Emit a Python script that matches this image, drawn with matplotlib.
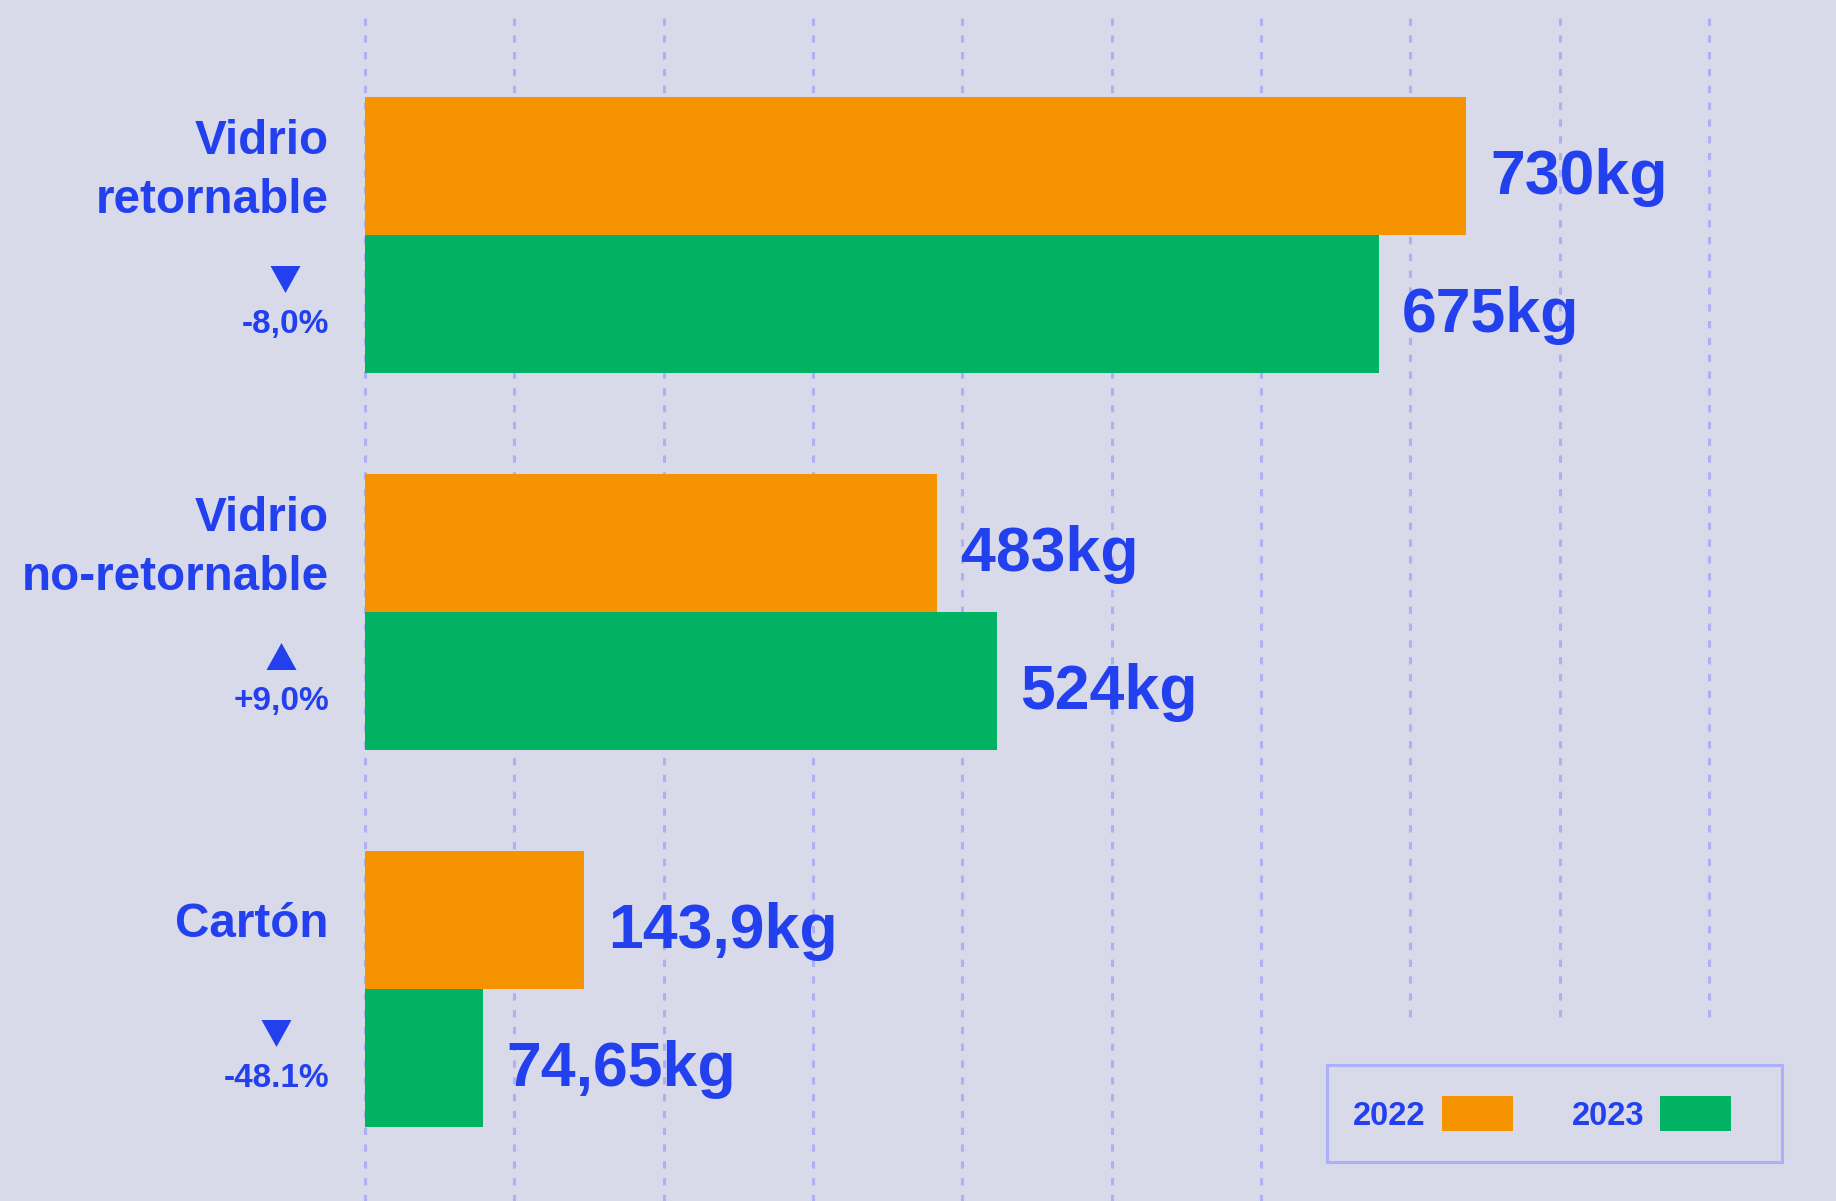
import numpy as np
import matplotlib
matplotlib.use('Agg')
import matplotlib.pyplot as plt
from matplotlib.patches import Patch, Rectangle

# ---- data ----
categories = ['Vidrio\nretornable', 'Vidrio\nno-retornable', 'Cartón']
# bar lengths as drawn in the picture (one grid step = 100)
bars_2022 = [737.6, 383.2, 146.9]
bars_2023 = [678.7, 423.2, 78.8]
labels_2022 = ['730kg', '483kg', '143,9kg']
labels_2023 = ['675kg', '524kg', '74,65kg']
changes = ['-8,0%', '+9,0%', '-48.1%']
change_up = [False, True, False]
years = ['2022', '2023']
grid_ticks = np.arange(0, 1000, 100)

# ---- style ----
BG = '#d8daea'
ORANGE = '#f59300'
GREEN = '#00b262'
BLUE = '#2340ee'
GRID = '#adb1f4'
FONT = ['Liberation Sans', 'DejaVu Sans']
plt.rcParams['font.family'] = FONT

W, H = 1836, 1201
X0 = 365.0            # pixel where the zero of the scale sits
PX_PER_UNIT = 1.4933  # pixels per kg-unit of the grid
Y0 = 235.3            # pixel of the first group's orange/green seam
PX_PER_GROUP = 377.0
PT = 72 / 100         # points per pixel


def py(px):
    return (px - Y0) / PX_PER_GROUP


fig = plt.figure(figsize=(W / 100, H / 100), dpi=100, facecolor=BG)
ax = fig.add_axes([0, 0, 1, 1])
ax.set_facecolor(BG)
ax.axis('off')
ax.set_xlim(-X0 / PX_PER_UNIT, (W - X0) / PX_PER_UNIT)
ax.set_ylim((H - Y0) / PX_PER_GROUP, -Y0 / PX_PER_GROUP)

# dotted vertical grid, the right ones stop above the legend
ends = np.where(grid_ticks >= 700, py(1022), py(H + 5))
ax.vlines(grid_ticks, py(18), ends, colors=GRID, lw=2.2,
          linestyles=[(0, (2.4, 3.1))], zorder=1)

h = 138 / PX_PER_GROUP
y = np.arange(len(categories))
ax.barh(y - h / 2, bars_2022, height=h, color=ORANGE, zorder=2)
ax.barh(y + h / 2, bars_2023, height=h, color=GREEN, zorder=2)

txt = dict(color=BLUE, fontweight='bold', family=FONT,
           textcoords='offset points', va='baseline', annotation_clip=False)

pct_texts = []
for i in range(len(categories)):
    ax.annotate(labels_2022[i], xy=(bars_2022[i], i - h / 2), xytext=(17, -19.7),
                ha='left', fontsize=45, **txt)
    ax.annotate(labels_2023[i], xy=(bars_2023[i], i + h / 2), xytext=(17, -19.7),
                ha='left', fontsize=45, **txt)

    lines = categories[i].split('\n')
    n = len(lines)
    for j, line in enumerate(lines):
        off = (j - (n - 1) / 2) * 58.7 + 17
        ax.annotate(line, xy=(0, i - h / 2), xytext=(-26, -off * PT),
                    ha='right', fontsize=34.3, **txt)

    t = ax.annotate(changes[i], xy=(0, i + h / 2), xytext=(-26, -28.5 * PT),
                    ha='right', fontsize=24, **txt)
    pct_texts.append(t)

# triangles centred above the percent labels
fig.canvas.draw()
tri_down = [(-1, 0.9), (1, 0.9), (0, -0.9)]
tri_up = [(-1, -0.9), (1, -0.9), (0, 0.9)]
for i, t in enumerate(pct_texts):
    bb = t.get_window_extent()
    cx = (bb.x0 + bb.x1) / 2
    base = ax.transData.transform((0, i + h / 2))[1] - 28.5
    tx, ty = ax.transData.inverted().transform((cx, base + 54))
    ax.plot(tx, ty, marker=tri_up if change_up[i] else tri_down,
            markersize=30 * PT, color=BLUE, markeredgewidth=0, clip_on=False)

# legend: text first, swatch after; frame drawn as its own box
handles = [Patch(facecolor=ORANGE, edgecolor='none'),
           Patch(facecolor=GREEN, edgecolor='none')]
leg = ax.legend(handles, years, ncol=2, markerfirst=False, loc='center left',
                bbox_to_anchor=(1353 / W, 1 - 1114 / H),
                bbox_transform=fig.transFigure, borderaxespad=0, borderpad=0,
                frameon=False,
                prop=dict(family=FONT, weight='bold', size=23.5),
                labelcolor=BLUE, handlelength=2.17, handleheight=1.25,
                handletextpad=0.5, columnspacing=1.8)
fig.add_artist(Rectangle((1326.7 / W, 1 - 1161.7 / H), 455 / W, 96.7 / H,
                         transform=fig.transFigure, facecolor='none',
                         edgecolor='#aab1fa', lw=2.2 * 1.0))

fig.savefig('out.png', dpi=100, facecolor=BG)
